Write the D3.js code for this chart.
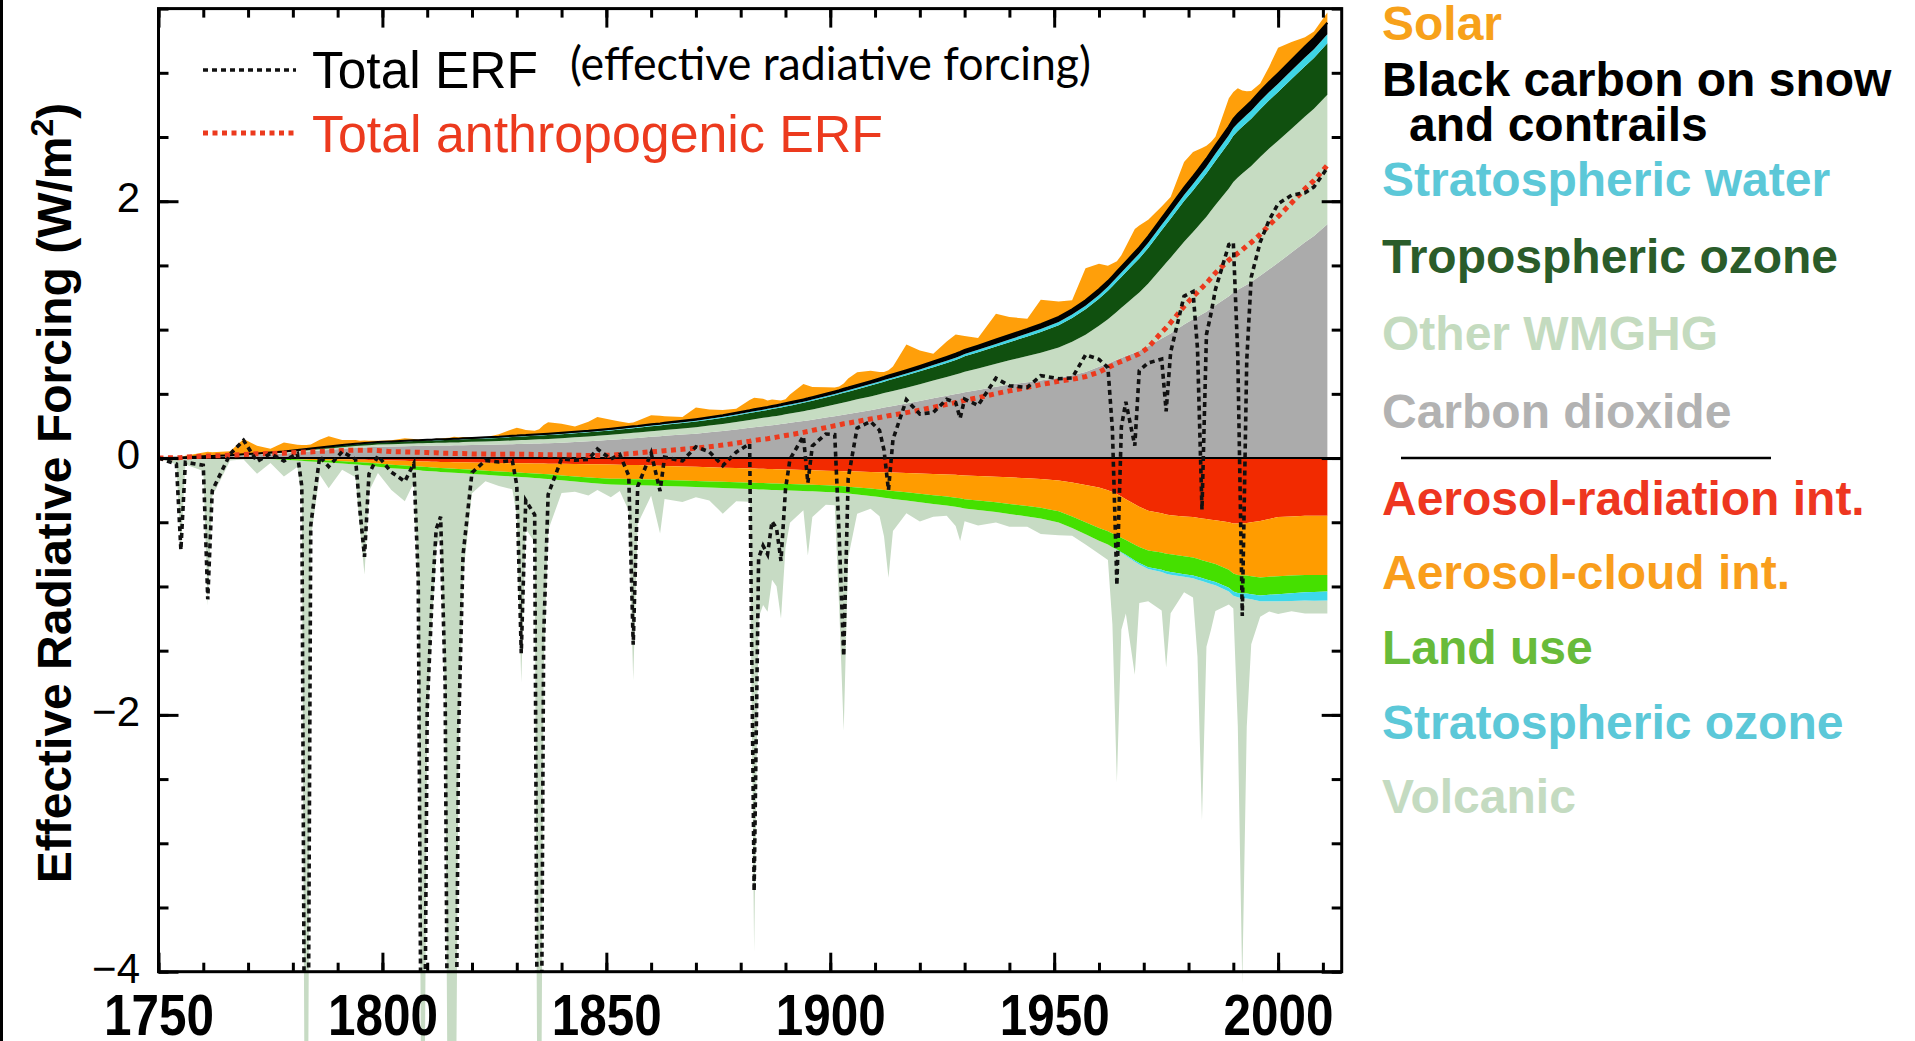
<!DOCTYPE html>
<html>
<head>
<meta charset="utf-8">
<script src="https://cdn.jsdelivr.net/npm/d3@7"></script>
<style>
  html, body { margin: 0; padding: 0; background: #fff; }
  svg { display: block; }
</style>
</head>
<body>
<svg id="chart" width="1915" height="1041"></svg>
<script>
// ---- Effective radiative forcing components (W/m2), 1750-2011 ----
const years = [
  1750,1754,1755,1756,1760, 1761,1762,1766,1769,1772, 1775,1778,1781,1782,1783, 1784,1786,1788,1791,1794, 1795,1796,1797,1799,
  1802,1805,1807,1808,1809, 1810,1811,1812,1813,1814, 1815,1816,1817,1818,1820, 1823,1826,1829,1830,1831, 1832,1834,1835,1836,1837, 1840,1843,1846,1848,
  1851,1853,1855,1856,1857, 1860,1862,1863,1867,1870, 1873,1876,1879,1882,1883, 1884,1885,1886,1887,1888, 1889,1890,1891,1894,1895, 1896,1899,
  1901,1902,1903,1904,1906, 1909,1911,1912,1913,1914, 1917,1920,1923,1926,1928, 1929,1930,1933,1937,1940, 1944,1947,
  1951,1954,1957,1960,1962, 1963,1964,1965,1966,1968, 1969,1971,1974,1975,1976, 1979,1981,1982,1983,1984, 1985,1986,1989,1990,1991, 1992,1993,1994,1996,1998, 2000,2003,2006,2008,2011
];

const carbonDioxide = [
  0,.003,.004,.005,.01, .011,.012,.016,.02,.025, .03,.036,.044,.047,.05, .053,.058,.063,.072,.078, .08,.082,.084,.088,
  .09,.092,.094,.095,.095, .096,.096,.097,.097,.098, .098,.099,.099,.1,.101, .103,.105,.108,.109,.11, .111,.113,.114,.115,.116, .12,.125,.13,.135,
  .142,.147,.152,.155,.157, .165,.17,.173,.183,.19, .2,.21,.222,.235,.24, .244,.248,.252,.256,.26, .265,.27,.274,.288,.293, .298,.315,
  .325,.331,.337,.343,.355, .373,.386,.393,.4,.406, .425,.445,.465,.485,.498, .505,.512,.53,.555,.572, .59,.603,
  .625,.645,.67,.71,.735, .75,.765,.78,.795,.82, .835,.87,.93,.95,.97, 1.04,1.08,1.1,1.12,1.14, 1.165,1.19,1.26,1.29,1.31, 1.33,1.35,1.37,1.42,1.47, 1.52,1.6,1.68,1.73,1.82
];

const otherWmghg = [
  0,0,0,.001,.002, .002,.002,.003,.004,.005, .006,.007,.008,.009,.009, .01,.011,.012,.013,.015, .015,.016,.016,.017,
  .018,.019,.02,.02,.021, .021,.021,.022,.022,.022, .023,.023,.023,.024,.025, .026,.027,.029,.029,.03, .03,.031,.032,.032,.033, .035,.036,.037,.038,
  .039,.04,.041,.042,.042, .044,.045,.046,.048,.05, .053,.056,.059,.062,.063, .064,.065,.066,.067,.068, .069,.071,.072,.077,.079, .081,.087,
  .092,.094,.096,.098,.102, .107,.111,.113,.115,.117, .123,.13,.138,.146,.152, .155,.16,.168,.18,.19, .205,.217,
  .235,.26,.29,.32,.345, .36,.375,.39,.405,.44, .455,.49,.55,.57,.59, .645,.68,.7,.72,.74, .76,.78,.84,.86,.875, .885,.895,.905,.925,.94, .95,.965,.98,.99,1.01
];

const troposphericOzone = [
  0,0,0,.001,.002, .002,.002,.003,.004,.005, .006,.007,.008,.008,.009, .009,.01,.011,.012,.013, .014,.014,.015,.015,
  .016,.017,.018,.018,.019, .019,.019,.02,.02,.02, .021,.021,.021,.022,.022, .024,.025,.027,.027,.028, .028,.029,.029,.03,.03, .031,.032,.033,.033,
  .034,.035,.036,.036,.037, .038,.039,.04,.042,.044, .046,.048,.05,.053,.054, .055,.056,.057,.058,.059, .06,.061,.062,.065,.066, .067,.07,
  .072,.073,.075,.076,.079, .084,.087,.089,.09,.092, .096,.1,.105,.11,.114, .117,.12,.126,.134,.14, .152,.162,
  .174,.185,.198,.21,.222, .228,.234,.24,.246,.258, .264,.276,.293,.298,.303, .316,.324,.328,.332,.336, .34,.344,.356,.36,.362, .364,.366,.368,.372,.376, .38,.386,.392,.395,.4
];

const stratosphericWater = [
  0,0,0,0,0, 0,0,0,0,0, 0,0,.001,.001,.001, .001,.001,.001,.002,.002, .002,.002,.002,.002,
  .002,.002,.002,.002,.002, .003,.003,.003,.003,.003, .003,.003,.003,.003,.003, .003,.004,.004,.004,.004, .004,.004,.004,.004,.004, .004,.005,.005,.005,
  .005,.005,.005,.005,.005, .006,.006,.006,.006,.007, .007,.007,.008,.008,.008, .008,.008,.008,.008,.009, .009,.009,.009,.009,.009, .01,.01,
  .01,.01,.011,.011,.011, .012,.012,.012,.013,.013, .014,.015,.016,.017,.018, .018,.018,.019,.02,.021, .022,.023,
  .025,.027,.028,.03,.031, .032,.033,.034,.035,.037, .038,.04,.043,.044,.045, .048,.05,.051,.052,.053, .054,.055,.058,.06,.061, .061,.062,.062,.063,.064, .065,.066,.068,.069,.07
];

const blackCarbonContrails = [
  0,0,0,0,0, 0,0,0,.001,.001, .001,.001,.002,.002,.002, .002,.002,.002,.002,.003, .003,.003,.003,.003,
  .003,.004,.004,.004,.004, .004,.004,.004,.004,.004, .004,.004,.005,.005,.005, .005,.005,.006,.006,.006, .006,.006,.006,.006,.006, .007,.007,.007,.008,
  .008,.008,.009,.009,.009, .01,.01,.01,.011,.012, .012,.013,.014,.014,.015, .015,.015,.015,.016,.016, .016,.016,.017,.018,.018, .018,.019,
  .02,.02,.021,.021,.022, .023,.024,.024,.025,.025, .026,.027,.028,.03,.03, .031,.031,.032,.034,.035, .036,.038,
  .04,.041,.042,.044,.045, .045,.046,.046,.047,.048, .048,.05,.052,.053,.054, .057,.059,.06,.061,.062, .063,.064,.068,.07,.071, .072,.073,.074,.076,.078, .08,.083,.086,.088,.09
];

const solar = [
  0,0,0,.01,.03, .035,.03,.03,.12,.06, .03,.07,.04,.035,.03, .03,.06,.08,.04,.03, .02,.02,.015,.01,
  .01,.02,.01,.005,.005, 0,0,.005,.005,.01, .01,.015,.01,.01,.005, 0,.02,.05,.06,.05, .04,.03,.04,.07,.09, .07,.04,.07,.1,
  .07,.05,.03,.03,.04, .07,.06,.05,.03,.09, .06,.04,.03,.08,.09, .08,.07,.05,.05,.04, .03,.03,.06,.12,.1, .08,.05,
  .03,.03,.04,.07,.1, .08,.05,.04,.04,.06, .2,.12,.06,.12,.15, .13,.11,.06,.2,.14, .08,.19,
  .12,.07,.25,.2,.12, .1,.08,.09,.12,.18, .17,.13,.09,.08,.07, .2,.19,.16,.13,.1, .08,.07,.22,.21,.2, .15,.11,.08,.06,.12, .2,.14,.07,.05,.08
];

const aerosolRadiation = [
  0,0,0,0,0, 0,0,0,0,0, -.001,-.002,-.004,-.005,-.005, -.006,-.007,-.008,-.01,-.012, -.013,-.014,-.015,-.017,
  -.02,-.022,-.024,-.025,-.026, -.027,-.028,-.029,-.03,-.03, -.031,-.032,-.032,-.033,-.034, -.036,-.038,-.04,-.04,-.041, -.041,-.042,-.043,-.043,-.044, -.045,-.046,-.048,-.049,
  -.051,-.052,-.054,-.055,-.055, -.058,-.06,-.061,-.065,-.068, -.072,-.075,-.078,-.081,-.082, -.083,-.084,-.085,-.086,-.087, -.088,-.089,-.09,-.093,-.094, -.095,-.098,
  -.1,-.101,-.102,-.103,-.105, -.108,-.11,-.111,-.112,-.113, -.116,-.12,-.124,-.128,-.131, -.133,-.135,-.139,-.145,-.15, -.157,-.163,
  -.175,-.19,-.21,-.23,-.25, -.265,-.28,-.3,-.32,-.36, -.38,-.41,-.43,-.44,-.445, -.455,-.46,-.465,-.47,-.475, -.48,-.485,-.5,-.51,-.51, -.51,-.505,-.5,-.49,-.475, -.46,-.455,-.45,-.45,-.45
];

const aerosolCloud = [
  0,0,0,0,0, 0,0,0,0,0, -.002,-.004,-.006,-.007,-.008, -.009,-.01,-.012,-.015,-.018, -.019,-.02,-.021,-.025,
  -.032,-.036,-.039,-.04,-.042, -.043,-.045,-.046,-.048,-.049, -.05,-.052,-.053,-.055,-.058, -.062,-.066,-.07,-.072,-.073, -.075,-.078,-.08,-.082,-.083, -.09,-.097,-.103,-.107,
  -.11,-.11,-.11,-.11,-.11, -.11,-.11,-.11,-.11,-.11, -.11,-.11,-.11,-.111,-.111, -.111,-.111,-.112,-.112,-.112, -.112,-.112,-.112,-.113,-.113, -.113,-.114,
  -.115,-.116,-.118,-.12,-.124, -.13,-.135,-.138,-.14,-.143, -.15,-.158,-.165,-.172,-.178, -.181,-.185,-.192,-.2,-.207, -.217,-.225,
  -.24,-.265,-.29,-.315,-.32, -.322,-.322,-.32,-.318,-.315, -.312,-.31,-.305,-.305,-.305, -.31,-.315,-.32,-.325,-.33, -.335,-.34,-.37,-.39,-.4, -.405,-.41,-.42,-.44,-.45, -.46,-.46,-.46,-.46,-.46
];

const landUse = [
  0,0,0,0,0, 0,0,0,-.001,-.003, -.005,-.007,-.009,-.01,-.011, -.012,-.013,-.015,-.017,-.02, -.021,-.022,-.023,-.025,
  -.027,-.028,-.029,-.029,-.03, -.03,-.03,-.03,-.03,-.031, -.031,-.031,-.031,-.031,-.032, -.032,-.033,-.033,-.034,-.034, -.034,-.035,-.035,-.036,-.036, -.037,-.039,-.041,-.043,
  -.045,-.045,-.046,-.046,-.046, -.046,-.047,-.047,-.047,-.048, -.048,-.048,-.049,-.049,-.049, -.05,-.05,-.05,-.05,-.05, -.05,-.05,-.051,-.051,-.051, -.051,-.052,
  -.052,-.053,-.053,-.054,-.055, -.057,-.059,-.06,-.061,-.062, -.064,-.066,-.068,-.07,-.071, -.072,-.072,-.074,-.076,-.078, -.081,-.083,
  -.086,-.09,-.094,-.1,-.104, -.107,-.11,-.113,-.116,-.122, -.125,-.13,-.135,-.137,-.138, -.14,-.14,-.14,-.14,-.14, -.14,-.14,-.14,-.14,-.14, -.14,-.14,-.14,-.14,-.14, -.14,-.138,-.135,-.133,-.13
];

const stratosphericOzone = [
  0,0,0,0,0, 0,0,0,0,0, 0,0,0,0,0, 0,0,0,0,0, 0,0,0,0,
  0,0,0,0,0, 0,0,0,0,0, 0,0,0,0,0, 0,0,0,0,0, 0,0,0,0,0, 0,0,0,0,
  0,0,0,0,0, 0,0,0,0,0, 0,0,0,0,0, 0,0,0,0,0, 0,0,0,0,0, 0,0,
  0,0,0,0,0, 0,0,0,0,0, 0,0,0,0,0, 0,0,0,0,0, 0,0,
  0,0,0,0,0, 0,-.002,-.004,-.006,-.01, -.012,-.015,-.018,-.019,-.02, -.02,-.021,-.022,-.023,-.024, -.025,-.026,-.03,-.032,-.034, -.036,-.038,-.04,-.045,-.05, -.055,-.06,-.065,-.068,-.07
];

const volcanic = [
  0,-.05,-.72,-.05,-.1, -1.15,-.3,-.02,-.01,-.12, -.03,-.13,-.05,-.3,-8, -.6,-.1,-.2,-.05,-.1, -.5,-.85,-.2,-.05,
  -.17,-.25,-.1,-1,-7, -2,-1.2,-.6,-.5,-1.8, -7.5,-7,-2.2,-.8,-.15, -.05,-.08,-.1,-.3,-1.6, -.4,-.5,-8,-1.5,-.4, -.1,-.08,-.1,-.05,
  -.1,-.05,-.2,-1.52,-.3, -.08,-.37,-.1,-.12,-.08, -.1,-.2,-.1,-.1,-3.6, -1,-.9,-.95,-.7,-.75, -1,-.45,-.25,-.15,-.5, -.2,-.1,
  -.1,-.9,-1.85,-.5,-.15, -.1,-.15,-.3,-.62,-.25, -.1,-.15,-.1,-.08,-.15, -.26,-.1,-.12,-.08,-.1, -.08,-.12,
  -.1,-.06,-.08,-.1,-.12, -.6,-1.81,-.6,-.45,-.88, -.3,-.25,-.3,-.73,-.3, -.12,-.15,-.6,-1.86,-.5, -.36,-.2,-.1,-.1,-1, -3,-1,-.35,-.12,-.08, -.1,-.08,-.1,-.1,-.1
];

// Axis ticks and labels
const xMinorTicks = d3.range(1750, 2011, 10);
const xMajorTicks = [1750, 1800, 1850, 1900, 1950, 2000];
const yMinorTicks = [-4, -3.5, -3, -2.5, -2, -1.5, -1, -0.5, 0, 0.5, 1, 1.5, 2, 2.5, 3, 3.5];
const yMajorTicks = [-4, -2, 0, 2];

// Legend texts
const positiveNames = ["Solar", "Black carbon on snow", "and contrails", "Stratospheric water", "Tropospheric ozone", "Other WMGHG", "Carbon dioxide"];
const negativeNames = ["Aerosol-radiation int.", "Aerosol-cloud int.", "Land use", "Stratospheric ozone", "Volcanic"];
const lineNames = ["Total ERF", "(effective radiative forcing)", "Total anthropogenic ERF"];
const yTitle = "Effective Radiative Forcing (W/m";

// ---- layout ----
const W = 1915, H = 1041;
const P = { left: 158.5, right: 1341.7, top: 8.6, bottom: 971.7 };
const x = d3.scaleLinear().domain([1750, 2014.2]).range([P.left, P.right]);
const y = d3.scaleLinear().domain([-4, 3.5]).range([P.bottom, P.top]);

const rows = years.map((yr, i) => ({
  year: yr,
  co2: carbonDioxide[i], owm: otherWmghg[i], o3t: troposphericOzone[i],
  h2o: stratosphericWater[i], bc: blackCarbonContrails[i], sol: solar[i],
  ari: aerosolRadiation[i], aci: aerosolCloud[i], lu: landUse[i],
  o3s: stratosphericOzone[i], vol: volcanic[i]
}));

const posKeys = ["co2", "owm", "o3t", "h2o", "bc", "sol"];
const posFill = ["#ababab", "#c6dcc2", "#10500f", "#3ed6e6", "#000000", "#ff9f0a"];
const negKeys = ["ari", "aci", "lu", "o3s", "vol"];
const negFill = ["#f22a00", "#ff9c00", "#45e000", "#3dd8ea", "#c7dbc4"];

const posStack = d3.stack().keys(posKeys)(rows);
const negStack = d3.stack().keys(negKeys)(rows);

const anthroKeys = ["co2", "owm", "o3t", "h2o", "bc", "ari", "aci", "lu", "o3s"];
const allKeys = anthroKeys.concat(["sol", "vol"]);
const totalSeries = rows.map(r => ({ year: r.year, v: d3.sum(allKeys, k => r[k]) }));
const anthroSeries = rows.map(r => ({ year: r.year, v: d3.sum(anthroKeys, k => r[k]) }));

const svg = d3.select("#chart");
svg.append("rect").attr("width", W).attr("height", H).attr("fill", "#fff");
svg.append("rect").attr("x", 0).attr("y", 0).attr("width", 3).attr("height", H).attr("fill", "#000");

const defs = svg.append("defs");
defs.append("clipPath").attr("id", "clip-plot").append("rect")
  .attr("x", P.left).attr("y", P.top).attr("width", P.right - P.left).attr("height", P.bottom - P.top);
// volcanic dips are allowed to run past the bottom axis
defs.append("clipPath").attr("id", "clip-volc").append("rect")
  .attr("x", P.left).attr("y", P.top).attr("width", P.right - P.left).attr("height", H - P.top);

const area = d3.area()
  .x(d => x(d.data.year))
  .y0(d => y(d[0]))
  .y1(d => y(d[1]));

// volcanic layer first (behind everything)
svg.append("g").attr("clip-path", "url(#clip-volc)")
  .append("path").datum(negStack[4]).attr("d", area).attr("fill", negFill[4]);

const gAreas = svg.append("g").attr("clip-path", "url(#clip-plot)");
negStack.slice(0, 4).forEach((s, i) => {
  gAreas.append("path").datum(s).attr("d", area).attr("fill", negFill[i]);
});
posStack.forEach((s, i) => {
  gAreas.append("path").datum(s).attr("d", area).attr("fill", posFill[i]);
});
// dark edge along the top of the black-carbon band
gAreas.append("path").datum(posStack[4])
  .attr("d", d3.line().x(d => x(d.data.year)).y(d => y(d[1])))
  .attr("fill", "none").attr("stroke", "#000").attr("stroke-width", 2);

// zero line
svg.append("line")
  .attr("x1", P.left).attr("x2", P.right).attr("y1", y(0)).attr("y2", y(0))
  .attr("stroke", "#000").attr("stroke-width", 2);

const line = d3.line().x(d => x(d.year)).y(d => y(d.v));
const gLines = svg.append("g").attr("clip-path", "url(#clip-plot)");
gLines.append("path").datum(anthroSeries).attr("d", line)
  .attr("fill", "none").attr("stroke", "#ec3a1e").attr("stroke-width", 5)
  .attr("stroke-dasharray", "5,4.5");
gLines.append("path").datum(totalSeries).attr("d", line)
  .attr("fill", "none").attr("stroke", "#111").attr("stroke-width", 3.6)
  .attr("stroke-dasharray", "5,4");

// ---- axes ----
function styleAxis(g) {
  g.select(".domain").remove();
  g.selectAll(".tick line").attr("stroke", "#000").attr("stroke-width", 3);
}
svg.append("g").attr("transform", `translate(0,${P.bottom})`)
  .call(d3.axisBottom(x).tickValues(xMinorTicks).tickSize(-9).tickFormat(""))
  .call(styleAxis);
svg.append("g").attr("transform", `translate(0,${P.top})`)
  .call(d3.axisTop(x).tickValues(xMinorTicks).tickSize(-9).tickFormat(""))
  .call(styleAxis);
svg.append("g").attr("transform", `translate(0,${P.top})`)
  .call(d3.axisTop(x).tickValues(xMajorTicks).tickSize(-19).tickFormat(""))
  .call(styleAxis);
const gxMajor = svg.append("g").attr("transform", `translate(0,${P.bottom})`)
  .call(d3.axisBottom(x).tickValues(xMajorTicks).tickSize(-19).tickFormat(d3.format("d")))
  .call(styleAxis);
gxMajor.selectAll(".tick text")
  .attr("y", 63).attr("dy", null)
  .attr("fill", "#000")
  .attr("font-family", "'Liberation Sans', Arial, sans-serif")
  .attr("font-weight", "bold").attr("font-size", 57)
  .attr("textLength", 110).attr("lengthAdjust", "spacingAndGlyphs");

svg.append("g").attr("transform", `translate(${P.left},0)`)
  .call(d3.axisLeft(y).tickValues(yMinorTicks).tickSize(-10).tickFormat(""))
  .call(styleAxis);
svg.append("g").attr("transform", `translate(${P.right},0)`)
  .call(d3.axisRight(y).tickValues(yMinorTicks).tickSize(-10).tickFormat(""))
  .call(styleAxis);
svg.append("g").attr("transform", `translate(${P.right},0)`)
  .call(d3.axisRight(y).tickValues(yMajorTicks).tickSize(-20).tickFormat(""))
  .call(styleAxis);
const gyMajor = svg.append("g").attr("transform", `translate(${P.left},0)`)
  .call(d3.axisLeft(y).tickValues(yMajorTicks).tickSize(-20).tickPadding(18.5).tickFormat(d3.format("d")))
  .call(styleAxis);
gyMajor.selectAll(".tick text")
  .attr("dy", "0.25em").attr("fill", "#000")
  .attr("font-family", "'Liberation Sans', Arial, sans-serif")
  .attr("font-size", 42);

// frame
svg.append("rect")
  .attr("x", P.left).attr("y", P.top)
  .attr("width", P.right - P.left).attr("height", P.bottom - P.top)
  .attr("fill", "none").attr("stroke", "#000").attr("stroke-width", 3);

// y-axis title
const yt = svg.append("text")
  .attr("transform", "translate(70.5,493) rotate(-90)")
  .attr("text-anchor", "middle")
  .attr("font-family", "'Liberation Sans', Arial, sans-serif")
  .attr("font-weight", "bold").attr("font-size", 48).attr("fill", "#000");
yt.append("tspan").text(yTitle);
yt.append("tspan").attr("dy", -18).attr("font-size", 32).text("2");
yt.append("tspan").attr("dy", 18).text(")");

// ---- line legend (top left) ----
svg.append("line").attr("x1", 203).attr("x2", 296).attr("y1", 70).attr("y2", 70)
  .attr("stroke", "#111").attr("stroke-width", 3.6).attr("stroke-dasharray", "5,4");
svg.append("line").attr("x1", 203).attr("x2", 296).attr("y1", 133).attr("y2", 133)
  .attr("stroke", "#ec3a1e").attr("stroke-width", 5).attr("stroke-dasharray", "5,4.5");
svg.append("text").attr("x", 312).attr("y", 88)
  .attr("font-family", "'Liberation Sans', Arial, sans-serif").attr("font-size", 51)
  .attr("fill", "#000").attr("textLength", 226).attr("lengthAdjust", "spacingAndGlyphs")
  .text(lineNames[0]);
svg.append("text").attr("x", 570).attr("y", 80)
  .attr("font-family", "Lato, 'Open Sans', sans-serif").attr("font-size", 46)
  .attr("fill", "#000").attr("textLength", 521).attr("lengthAdjust", "spacingAndGlyphs")
  .text(lineNames[1]);
svg.append("text").attr("x", 312).attr("y", 152)
  .attr("font-family", "'Liberation Sans', Arial, sans-serif").attr("font-size", 51)
  .attr("fill", "#ec3a1e").attr("textLength", 571).attr("lengthAdjust", "spacingAndGlyphs")
  .text(lineNames[2]);

// ---- component legend (right) ----
const posText = ["#f7a11a", "#000000", "#000000", "#5cc8d8", "#2a5c2a", "#c4dbbf", "#b2b2b2"];
const posBase = [40, 96, 141, 196, 273, 350, 428];
const posIndent = [0, 0, 27, 0, 0, 0, 0];
const negText = ["#ee3620", "#f99e1c", "#68bb3a", "#5cc8d8", "#c4dbc1"];
const negBase = [515, 589, 664, 738.5, 813];

const gLeg = svg.append("g")
  .attr("font-family", "'Liberation Sans', Arial, sans-serif")
  .attr("font-weight", "bold").attr("font-size", 48);
positiveNames.forEach((t, i) => {
  gLeg.append("text").attr("x", 1382 + posIndent[i]).attr("y", posBase[i]).attr("fill", posText[i]).text(t);
});
negativeNames.forEach((t, i) => {
  gLeg.append("text").attr("x", 1382).attr("y", negBase[i]).attr("fill", negText[i]).text(t);
});
svg.append("line").attr("x1", 1401).attr("x2", 1771).attr("y1", 458).attr("y2", 458)
  .attr("stroke", "#000").attr("stroke-width", 2.5);
</script>
</body>
</html>
